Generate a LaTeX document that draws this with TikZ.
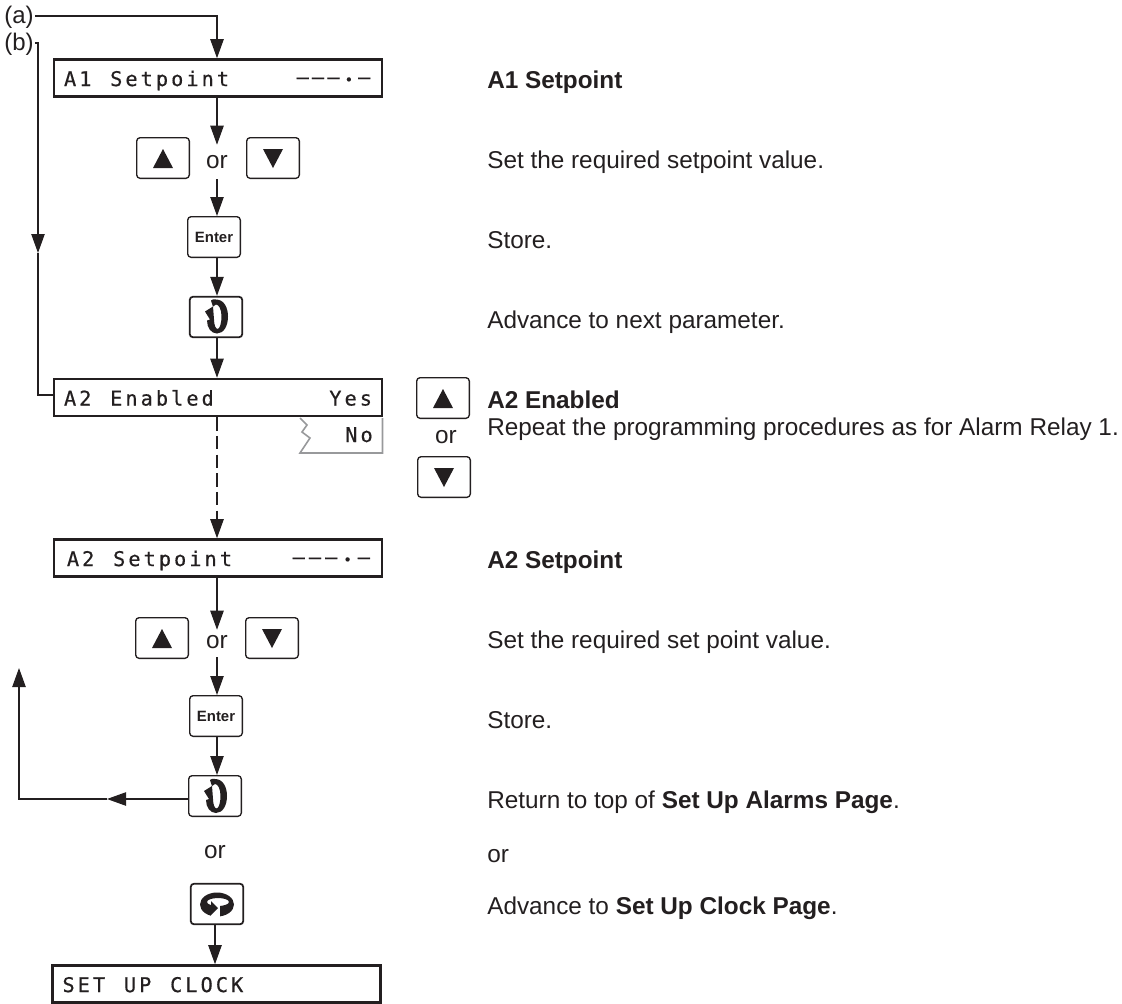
\documentclass[tikz,border=0pt]{standalone}
\usepackage{fontspec}
\setmainfont{Liberation Sans}
\newfontfamily\dispfont[LetterSpace=15,FakeBold=0.5]{DejaVu Sans Mono}
\usetikzlibrary{arrows.meta}
\definecolor{ink}{HTML}{231F20}
\definecolor{tabgray}{HTML}{98999B}
\newcommand{\dsp}{ \kern9pt }
\newcommand{\dashcell}[2]{\makebox[#1][c]{\raisebox{1.6pt}{#2}}}
\newcommand{\dashes}[1]{\dashcell{#1}{—}\dashcell{#1}{—}\dashcell{#1}{—}\dashcell{#1}{\raisebox{-.6pt}{\scalebox{.7}{•}}}\dashcell{#1}{—}}
\tikzset{
  x=0.75pt,y=-0.75pt,
  line/.style={draw=ink,line width=1pt},
  flow/.style={line,-{Triangle[length=14.25pt,width=10pt]}},
  dispbox/.style={draw=ink,line width=1.9pt,fill=white,minimum width=246pt,minimum height=27.75pt,
    inner xsep=7.5pt,inner ysep=0pt,text width=231pt,text height=19.9pt,text depth=7.85pt,
    font=\dispfont\fontsize{15.2pt}{18pt}\selectfont,text=ink},
  button/.style={draw=ink,line width=1pt,rounded corners=2.6pt,fill=white,minimum width=39.5pt,minimum height=30.5pt,inner sep=0pt,text=ink},
  keyorr/.style={inner sep=0pt,text=ink,font=\fontsize{18.25pt}{20pt}\selectfont},
  desc/.style={anchor=base west,inner sep=0pt,text=ink,font=\fontsize{18.25pt}{20pt}\selectfont},
  ref/.style={anchor=base west,inner sep=0pt,text=ink,font=\fontsize{18pt}{20pt}\selectfont},
  enterkey/.style={button,font=\bfseries\fontsize{11.2pt}{13pt}\selectfont},
  glyph/.style={fill=ink,draw=none}
}
\newcommand{\upkey}[2]{\node[button] (#1) at (#2) {};
  \fill[glyph] ([yshift=6.75pt]#1.center) -- ([xshift=7.5pt,yshift=-7.5pt]#1.center) -- ([xshift=-7.5pt,yshift=-7.5pt]#1.center) -- cycle;}
\newcommand{\downkey}[2]{\node[button] (#1) at (#2) {};
  \fill[glyph] ([yshift=-7.5pt]#1.center) -- ([xshift=7.5pt,yshift=6.75pt]#1.center) -- ([xshift=-7.5pt,yshift=6.75pt]#1.center) -- cycle;}
\newcommand{\pageicon}[1]{\begin{scope}[shift={(#1)}]
  \fill[glyph] (-5,-16) .. controls (-2,-18) and (-1,-17) .. (0,-17)
     .. controls (8,-17) and (12,-9) .. (12,0)
     .. controls (12,9) and (8,17) .. (1,17)
     .. controls (-5,17) and (-9,11) .. (-9,4)
     -- (-6,3) -- (-11,-5) -- (-3,-10) -- (-2,3)
     .. controls (-2,9) and (0,12.5) .. (1.5,12.5)
     .. controls (4,12.5) and (5.5,6) .. (5.5,0)
     .. controls (5.5,-7) and (3,-12) .. (0,-12)
     -- (-3,-10) -- cycle;
\end{scope}}
\newcommand{\loopicon}[1]{\begin{scope}[shift={(#1)}]
  \fill[glyph,even odd rule] (0,0.5) ellipse [x radius=17,y radius=12] (1,-2) ellipse [x radius=11,y radius=4];
  \fill[white] (-6,0) rectangle (3,13);
  \fill[glyph] (-6,-3) -- (1,4) -- (-6,11) -- cycle;
\end{scope}}
\begin{document}
\begin{tikzpicture}
\useasboundingbox (0,0) rectangle (1122,1004);

% reference labels
\node[ref] (reflabela) at (4,23) {(a)};
\node[ref] (reflabelb) at (4,50) {(b)};

% displays
\node[dispbox] (a1) at (218,78) {A1\dsp Setpoint\hfill\dashes{11.55pt}};
\node[dispbox] (a2) at (218,397.5) {A2\dsp Enabled\hfill Yes};
\node[dispbox] (a2s) at (218,558) {\hspace{2.2pt}A2\dsp Setpoint\hfill\dashes{12.2pt}};
\node[dispbox] (clock) at (216.5,984) {SET\dsp UP\dsp CLOCK};

% No tab
\draw[tabgray,line width=1.2pt] (382.5,418) -- (382.5,453) -- (300,453) -- (310,438) -- (302,432) -- (307,425) -- (300,418);
\node[anchor=base east,inner sep=0pt,text=ink,font=\dispfont\fontsize{15.2pt}{18pt}\selectfont] (no) at (373,442) {No};

% keys, first group
\upkey{up1}{163,158}
\downkey{dn1}{273,158}
\node[keyorr,minimum height=25.5pt] (or1) at (217,162) {or};
\node[enterkey] (ent1) at (214,237) {Enter};
\node[button,line width=1.3pt] (pg1) at (216,317) {};
\pageicon{216,316.5}

% side keys
\upkey{up3}{443,398}
\node[keyorr] (or3) at (446,437) {or};
\downkey{dn3}{444,477}

% keys, second group
\upkey{up2}{162,638}
\downkey{dn2}{272,638}
\node[keyorr,minimum height=18pt] (or2) at (217,642) {or};
\node[enterkey] (ent2) at (216,716) {Enter};
\node[button] (pg2) at (215,796) {};
\pageicon{215,796}
\node[keyorr,minimum height=20pt] (or4) at (215,852) {or};
\node[button,line width=1.3pt] (lp) at (217,904) {};
\loopicon{217,904}

% connectors
\coordinate (astart) at (35,16);
\coordinate (bstart) at (35,43);
\coordinate (bmid) at (38,253);
\coordinate (retmid) at (107,799);
\coordinate (rettip) at (19,668);
\draw[flow] (astart) -| (or1|-a1.north);
\draw[flow] (or1|-a1.south) -- (or1.north);
\draw[flow] (or1.south) -- (or1|-ent1.north);
\draw[flow] (or1|-ent1.south) -- (or1|-pg1.north);
\draw[flow] (or1|-pg1.south) -- (or1|-a2.north);
\draw[flow] (bstart) -| (bmid);
\draw[line] (bmid) |- ([yshift=1.9pt]a2.west);
\draw[flow,dash pattern=on 10pt off 4pt] (or2|-a2.south) -- (or2|-a2s.north);
\draw[flow] (or2|-a2s.south) -- (or2.north);
\draw[flow] ([yshift=-2.25pt]or2.south) -- (or2|-ent2.north);
\draw[flow] (or2|-ent2.south) -- (or2|-pg2.north);
\draw[flow] ([yshift=-2.25pt]pg2.west) -- (retmid);
\draw[flow] (retmid) -| (rettip);
\draw[flow] (or4|-lp.south) -- (or4|-clock.north);

% descriptions
\node[desc,font=\bfseries\fontsize{18.25pt}{20pt}\selectfont] (t1) at (487,88) {A1 Setpoint};
\node[desc] (t2) at (487,168) {Set the required setpoint value.};
\node[desc] (t3) at (487,248) {Store.};
\node[desc] (t4) at (487,328) {Advance to next parameter.};
\node[desc,font=\bfseries\fontsize{18.25pt}{20pt}\selectfont] (t5) at (487,408) {A2 Enabled};
\node[desc] (t6) at (487,435) {Repeat the programming procedures as for Alarm Relay 1.};
\node[desc,font=\bfseries\fontsize{18.25pt}{20pt}\selectfont] (t7) at (487,568) {A2 Setpoint};
\node[desc] (t8) at (487,648) {Set the required set point value.};
\node[desc] (t9) at (487,728) {Store.};
\node[desc] (t10) at (487,808) {Return to top of \textbf{Set Up Alarms Page}.};
\node[desc] (t11) at (487,862) {or};
\node[desc] (t12) at (487,914) {Advance to \textbf{Set Up Clock Page}.};
\end{tikzpicture}
\end{document}
